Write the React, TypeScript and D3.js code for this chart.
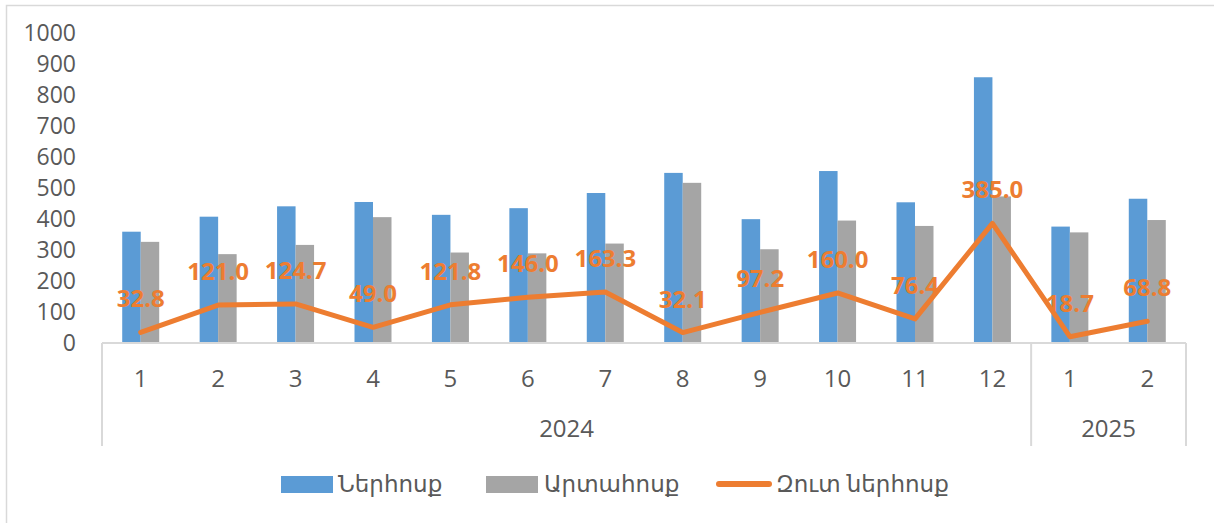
import React from "react";
import * as d3 from "d3";

const months = ["1", "2", "3", "4", "5", "6", "7", "8", "9", "10", "11", "12", "1", "2"];
const years = [
  { label: "2024", start: 0, end: 12 },
  { label: "2025", start: 12, end: 14 },
];
const inflow = [358.0, 406.5, 440.0, 454.0, 412.5, 434.0, 483.0, 548.0, 398.5, 554.0, 453.0, 857.0, 374.5, 464.5];
const outflow = [325.2, 285.5, 315.3, 405.0, 290.7, 288.0, 319.7, 515.9, 301.3, 394.0, 376.6, 472.0, 355.8, 395.7];
const net = [32.8, 121.0, 124.7, 49.0, 121.8, 146.0, 163.3, 32.1, 97.2, 160.0, 76.4, 385.0, 18.7, 68.8];
const yTicks = [0, 100, 200, 300, 400, 500, 600, 700, 800, 900, 1000];
const seriesNames = ["Ներհոսք", "Արտահոսք", "Զուտ ներհոսք"];

const BLUE = "#5B9BD5";
const GRAY = "#A5A5A5";
const ORANGE = "#ED7D31";
const TEXT = "#595959";
const AXIS = "#D9D9D9";
const FONT = "'Open Sans', 'DejaVu Sans', sans-serif";

export default function App() {
  const W = 1214;
  const H = 523;
  const x0 = 102;
  const x1 = 1186;
  const y = d3.scaleLinear().domain([0, 1000]).range([342.5, 33]);
  const idx = months.map((_, i) => i);
  const x = d3.scaleBand<number>().domain(idx).range([x0, x1]).paddingInner(0).paddingOuter(0);
  const bw = 18.5;
  const inner = d3.scaleBand<string>().domain(["in", "out"]).range([-bw, bw]);
  const cx = (i: number) => (x(i) as number) + x.bandwidth() / 2;

  const line = d3
    .line<number>()
    .x((_, i) => cx(i))
    .y((d) => y(d));

  const axisY = 343;
  const sepBottom = 446;

  return (
    <svg
      width={W}
      height={H}
      style={{ position: "absolute", left: 0, top: 0, background: "#fff" }}
      fontFamily={FONT}
    >
      <rect x={0} y={0} width={W} height={H} fill="#fff" />
      <rect x={6.5} y={5.5} width={W + 10} height={H + 10} fill="none" stroke={AXIS} strokeWidth={1.5} />

      {/* y tick labels */}
      {yTicks.map((t) => (
        <text
          key={t}
          x={76}
          y={y(t)}
          dy="0.36em"
          textAnchor="end"
          fontSize={23}
          fill={TEXT}
        >
          {t}
        </text>
      ))}

      {/* bars */}
      {idx.map((i) => (
        <g key={i}>
          <rect
            x={cx(i) + (inner("in") as number)}
            y={y(inflow[i])}
            width={inner.bandwidth()}
            height={y(0) - y(inflow[i])}
            fill={BLUE}
          />
          <rect
            x={cx(i) + (inner("out") as number)}
            y={y(outflow[i])}
            width={inner.bandwidth()}
            height={y(0) - y(outflow[i])}
            fill={GRAY}
          />
        </g>
      ))}

      {/* x axis */}
      <line x1={x0} x2={x1} y1={axisY} y2={axisY} stroke={AXIS} strokeWidth={2} />
      {[0, 12, 14].map((k) => {
        const xx = k === 14 ? x1 : (x(k) as number);
        return <line key={k} x1={xx} x2={xx} y1={axisY} y2={sepBottom} stroke={AXIS} strokeWidth={2} />;
      })}
      {months.map((m, i) => (
        <text key={i} x={cx(i)} y={378} dy="0.36em" textAnchor="middle" fontSize={24} fill={TEXT}>
          {m}
        </text>
      ))}
      {years.map((yr) => {
        const a = x(yr.start) as number;
        const b = yr.end >= months.length ? x1 : (x(yr.end) as number);
        return (
          <text key={yr.label} x={(a + b) / 2} y={428} dy="0.36em" textAnchor="middle" fontSize={24} fill={TEXT}>
            {yr.label}
          </text>
        );
      })}

      {/* net line */}
      <path
        d={line(net) || ""}
        fill="none"
        stroke={ORANGE}
        strokeWidth={5}
        strokeLinejoin="round"
        strokeLinecap="round"
      />
      {net.map((v, i) => (
        <text
          key={i}
          x={cx(i)}
          y={y(v) - 25}
          textAnchor="middle"
          fontSize={24}
          fontWeight="bold"
          fill={ORANGE}
        >
          {v.toFixed(1)}
        </text>
      ))}

      {/* legend */}
      <rect x={281} y={476} width={52} height={17} fill={BLUE} />
      <text x={338} y={492} fontSize={23} fill={TEXT}>
        {seriesNames[0]}
      </text>
      <rect x={486} y={476} width={52} height={17} fill={GRAY} />
      <text x={544} y={492} fontSize={23} fill={TEXT}>
        {seriesNames[1]}
      </text>
      <line x1={719} x2={769} y1={484} y2={484} stroke={ORANGE} strokeWidth={6} strokeLinecap="round" />
      <text x={776} y={492} fontSize={23} fill={TEXT}>
        {seriesNames[2]}
      </text>
    </svg>
  );
}
